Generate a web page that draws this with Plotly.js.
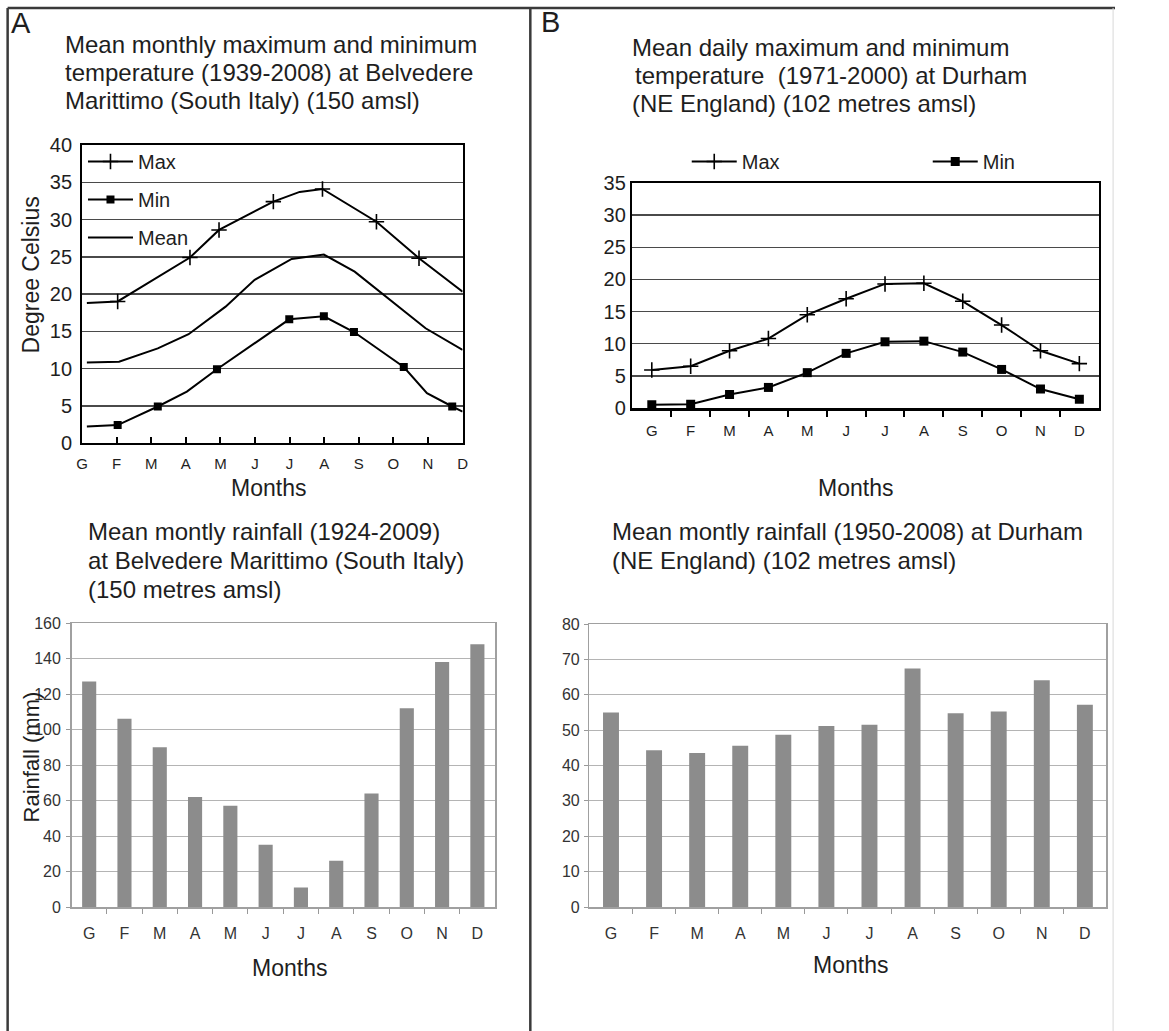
<!DOCTYPE html>
<html><head><meta charset="utf-8">
<script src="https://cdn.plot.ly/plotly-3.0.1.min.js"></script>
<style>html,body{margin:0;padding:0;background:#fff}#chart{width:1169px;height:1031px}</style>
</head><body><div id="chart"></div>
<script>
// ---------- data ----------
const monthLabels = ['G','F','M','A','M','J','J','A','S','O','N','D'];
const monthIndex = [0,1,2,3,4,5,6,7,8,9,10,11];

// Panel A temperature: vertices (x = month index)
const aMaxX = [0.14,1.03,3.12,3.96,5.53,6.29,6.95,8.51,9.74,11];
const aMaxY = [18.8,19.0,24.9,28.6,32.4,33.7,34.1,29.7,24.8,20.3];
const aMaxMarkX = [1.03,3.12,3.96,5.53,6.95,8.51,9.74];
const aMaxMarkY = [19.0,24.9,28.6,32.4,34.1,29.7,24.8];
const aMinX = [0.14,1.03,2.19,3.03,3.90,5.99,6.99,7.86,9.30,9.97,10.70,11];
const aMinY = [2.2,2.4,4.9,6.9,9.9,16.6,17.0,14.9,10.2,6.7,4.9,4.2];
const aMinMarkX = [1.03,2.19,3.90,5.99,6.99,7.86,9.30,10.70];
const aMinMarkY = [2.4,4.9,9.9,16.6,17.0,14.9,10.2,4.9];
const aMeanX = [0.14,1.07,2.19,3.08,4.15,4.99,6.06,6.99,7.88,8.90,9.93,11];
const aMeanY = [10.8,10.9,12.7,14.6,18.3,21.9,24.7,25.3,23.0,19.2,15.4,12.5];

// Panel B temperature (Durham)
const bMax = [5.9,6.5,8.9,10.8,14.5,17.0,19.3,19.4,16.6,12.9,8.9,6.9];
const bMin = [0.5,0.6,2.1,3.2,5.5,8.5,10.3,10.4,8.7,6.0,2.95,1.35];

// Rainfall (mm)
const rainA = [127,106,90,62,57,35,11,26,64,112,138,148];
const rainB = [55,44.3,43.5,45.6,48.7,51.2,51.5,67.4,54.8,55.3,64.1,57.2];

// ---------- layout helpers ----------
const W = 1169, H = 1031;
const px = v => v / W;
const py = v => 1 - v / H;
const FONT = 'Liberation Sans, Arial, Helvetica, sans-serif';
const NARROW = 'Liberation Sans Narrow, Arial Narrow, Liberation Sans, sans-serif';
const TXT = '#1e1e1e';
const boundaries = monthIndex.slice(0, 11).map(i => i + 0.5);

const crossMarker = {symbol: 'cross-thin', size: 11, line: {width: 1.6, color: '#000'}};

const traces = [
  // Panel A temperature
  {x: aMaxX, y: aMaxY, mode: 'lines', line: {color: '#000', width: 2}, xaxis: 'x', yaxis: 'y', showlegend: false, hoverinfo: 'skip'},
  {x: aMaxMarkX, y: aMaxMarkY, mode: 'markers', marker: crossMarker, xaxis: 'x', yaxis: 'y', showlegend: false, hoverinfo: 'skip'},
  {x: aMeanX, y: aMeanY, mode: 'lines', line: {color: '#000', width: 2}, xaxis: 'x', yaxis: 'y', showlegend: false, hoverinfo: 'skip'},
  {x: aMinX, y: aMinY, mode: 'lines', line: {color: '#000', width: 2}, xaxis: 'x', yaxis: 'y', showlegend: false, hoverinfo: 'skip'},
  {x: aMinMarkX, y: aMinMarkY, mode: 'markers', marker: {symbol: 'square', size: 8, color: '#000'}, xaxis: 'x', yaxis: 'y', showlegend: false, hoverinfo: 'skip'},
  // legend entries for panel A
  {x: [null], y: [null], name: 'Max', mode: 'lines+markers', line: {color: '#000', width: 2}, marker: crossMarker, xaxis: 'x', yaxis: 'y', legend: 'legend', legendgroup: 'g1'},
  {x: [null], y: [null], name: 'Min', mode: 'lines+markers', line: {color: '#000', width: 2}, marker: {symbol: 'square', size: 8, color: '#000'}, xaxis: 'x', yaxis: 'y', legend: 'legend', legendgroup: 'g2'},
  {x: [null], y: [null], name: 'Mean', mode: 'lines', line: {color: '#000', width: 2}, xaxis: 'x', yaxis: 'y', legend: 'legend', legendgroup: 'g3'},
  // Panel B temperature
  {x: monthIndex, y: bMax, name: 'Max', mode: 'lines+markers', line: {color: '#000', width: 2}, marker: crossMarker, xaxis: 'x2', yaxis: 'y2', legend: 'legend2', hoverinfo: 'skip'},
  {x: monthIndex, y: bMin, name: 'Min', mode: 'lines+markers', line: {color: '#000', width: 2}, marker: {symbol: 'square', size: 9, color: '#000'}, xaxis: 'x2', yaxis: 'y2', legend: 'legend2', hoverinfo: 'skip'},
  // Rainfall bars
  {type: 'bar', x: monthIndex, y: rainA, width: 0.4, marker: {color: '#8c8c8c'}, xaxis: 'x3', yaxis: 'y3', showlegend: false, hoverinfo: 'skip'},
  {type: 'bar', x: monthIndex, y: rainB, width: 0.37, marker: {color: '#8c8c8c'}, xaxis: 'x4', yaxis: 'y4', showlegend: false, hoverinfo: 'skip'}
];

function ann(text, x, y, size, extra) {
  return Object.assign({text: text, xref: 'paper', yref: 'paper', x: px(x), y: py(y), xanchor: 'left', yanchor: 'middle',
    showarrow: false, font: {family: FONT, size: size, color: TXT}}, extra || {});
}

const annotations = [
  ann('A', 9, 23, 29),
  ann('B', 565, 22, 29),
  ann('Mean monthly maximum and minimum', 66, 45, 24),
  ann('temperature (1939-2008) at Belvedere', 66, 72.5, 24),
  ann('Marittimo (South Italy) (150 amsl)', 66, 100, 24),
  ann('Mean daily maximum and minimum', 660, 47, 24),
  ann('temperature  (1971-2000) at Durham', 664, 75, 24),
  ann('(NE England) (102 metres amsl)', 660, 103, 24),
  ann('Mean montly rainfall (1924-2009)', 90, 531, 24),
  ann('at Belvedere Marittimo (South Italy)', 90, 560, 24),
  ann('(150 metres amsl)', 90, 589, 24),
  ann('Mean montly rainfall (1950-2008) at Durham', 640, 531, 24),
  ann('(NE England) (102 metres amsl)', 640, 560, 24),
  ann('Months', 282, 488, 23, {xanchor: 'center'}),
  ann('Months', 897, 488, 23, {xanchor: 'center'}),
  ann('Months', 303, 968, 23, {xanchor: 'center'}),
  ann('Months', 892, 965, 23, {xanchor: 'center'}),
  ann('Degree Celsius', 33, 275, 23, {xanchor: 'center', textangle: -90}),
  ann('Rainfall (mm)', 33, 757, 22, {xanchor: 'center', textangle: -90})
];

const frameColor = '#3a3a3a';
const shapes = [
  {type: 'line', xref: 'paper', yref: 'paper', x0: px(8), x1: 1, y0: py(8), y1: py(8), line: {color: frameColor, width: 2.5}},
  {type: 'line', xref: 'paper', yref: 'paper', x0: px(8), x1: px(8), y0: py(8), y1: 0, line: {color: frameColor, width: 2.5}},
  {type: 'line', xref: 'paper', yref: 'paper', x0: px(556), x1: px(556), y0: py(8), y1: 0, line: {color: frameColor, width: 2.5}},
  {type: 'line', xref: 'paper', yref: 'paper', x0: px(1167), x1: px(1167), y0: py(8), y1: 0, line: {color: '#d8d8d8', width: 1}}
];

const tempX = {showline: true, mirror: true, linecolor: '#000', linewidth: 2, showgrid: false, zeroline: false,
  tickmode: 'array', tickvals: monthIndex, ticktext: monthLabels, tickfont: {family: FONT, size: 15, color: TXT}, fixedrange: true};
const tempY = {showline: true, mirror: true, linecolor: '#000', linewidth: 2, showgrid: true, gridcolor: '#4a4a4a', gridwidth: 1.5,
  zeroline: false, dtick: 5, ticks: '', tickfont: {family: FONT, size: 20, color: TXT}, fixedrange: true};
const rainX = {showline: true, mirror: true, linecolor: '#a0a0a0', linewidth: 1.5, showgrid: false, zeroline: false,
  tickmode: 'array', tickvals: monthIndex, ticktext: monthLabels, ticks: '', range: [-0.5, 11.5],
  minor: {tickmode: 'array', tickvals: boundaries, ticks: 'outside', ticklen: 5, tickwidth: 1, tickcolor: '#999', showgrid: false},
  tickfont: {family: NARROW, size: 16, color: '#333'}, ticklabelstandoff: 11, fixedrange: true};
const rainY = {showline: true, mirror: true, linecolor: '#a0a0a0', linewidth: 1.5, showgrid: true, gridcolor: '#b4b4b4', gridwidth: 1,
  zeroline: false, ticks: 'outside', ticklen: 4, tickcolor: '#999', tickfont: {family: NARROW, size: 16, color: '#333'}, fixedrange: true};

const layout = {
  width: W, height: H, margin: {l: 0, r: 0, t: 0, b: 0},
  paper_bgcolor: '#fff', plot_bgcolor: '#fff',
  font: {family: FONT, color: TXT},
  xaxis: Object.assign({}, tempX, {domain: [px(86), px(485)], range: [0, 11], anchor: 'y', ticks: 'inside', ticklen: 6, tickwidth: 2, tickcolor: '#000', ticklabelstandoff: 6}),
  yaxis: Object.assign({}, tempY, {domain: [py(443), py(145)], range: [0, 40], anchor: 'x', ticklabelstandoff: 4}),
  xaxis2: Object.assign({}, tempX, {domain: [px(663), px(1152)], range: [-0.5, 11.5], anchor: 'y2', ticks: '',
    minor: {tickmode: 'array', tickvals: boundaries, ticks: 'outside', ticklen: 6, tickwidth: 2, tickcolor: '#000', showgrid: false}, ticklabelstandoff: 7, linewidth: 2.5}),
  yaxis2: Object.assign({}, tempY, {domain: [py(408), py(183)], range: [0, 35], anchor: 'x2', ticklabelstandoff: 0, linewidth: 2.5}),
  xaxis3: Object.assign({}, rainX, {domain: [px(75), px(519)], anchor: 'y3'}),
  yaxis3: Object.assign({}, rainY, {domain: [py(907), py(623)], range: [0, 160], dtick: 20, anchor: 'x3', ticklabelstandoff: 2}),
  xaxis4: Object.assign({}, rainX, {domain: [px(618), px(1160)], anchor: 'y4'}),
  yaxis4: Object.assign({}, rainY, {domain: [py(907), py(624)], range: [0, 80], dtick: 10, anchor: 'x4', ticklabelstandoff: 1}),
  legend: {x: px(87), y: py(142), xanchor: 'left', yanchor: 'top', bgcolor: 'rgba(0,0,0,0)', borderwidth: 0,
    font: {family: FONT, size: 20, color: TXT}, tracegroupgap: 9, traceorder: 'grouped', itemwidth: 45,
    itemclick: false, itemdoubleclick: false},
  legend2: {orientation: 'h', x: px(720), y: py(142), xanchor: 'left', yanchor: 'top', bgcolor: 'rgba(0,0,0,0)',
    font: {family: FONT, size: 20, color: TXT}, entrywidth: 181, itemwidth: 45, itemclick: false, itemdoubleclick: false},
  annotations: annotations,
  shapes: shapes,
  showlegend: true
};

Plotly.newPlot('chart', traces, layout, {displayModeBar: false, staticPlot: true});
</script>
</body></html>
